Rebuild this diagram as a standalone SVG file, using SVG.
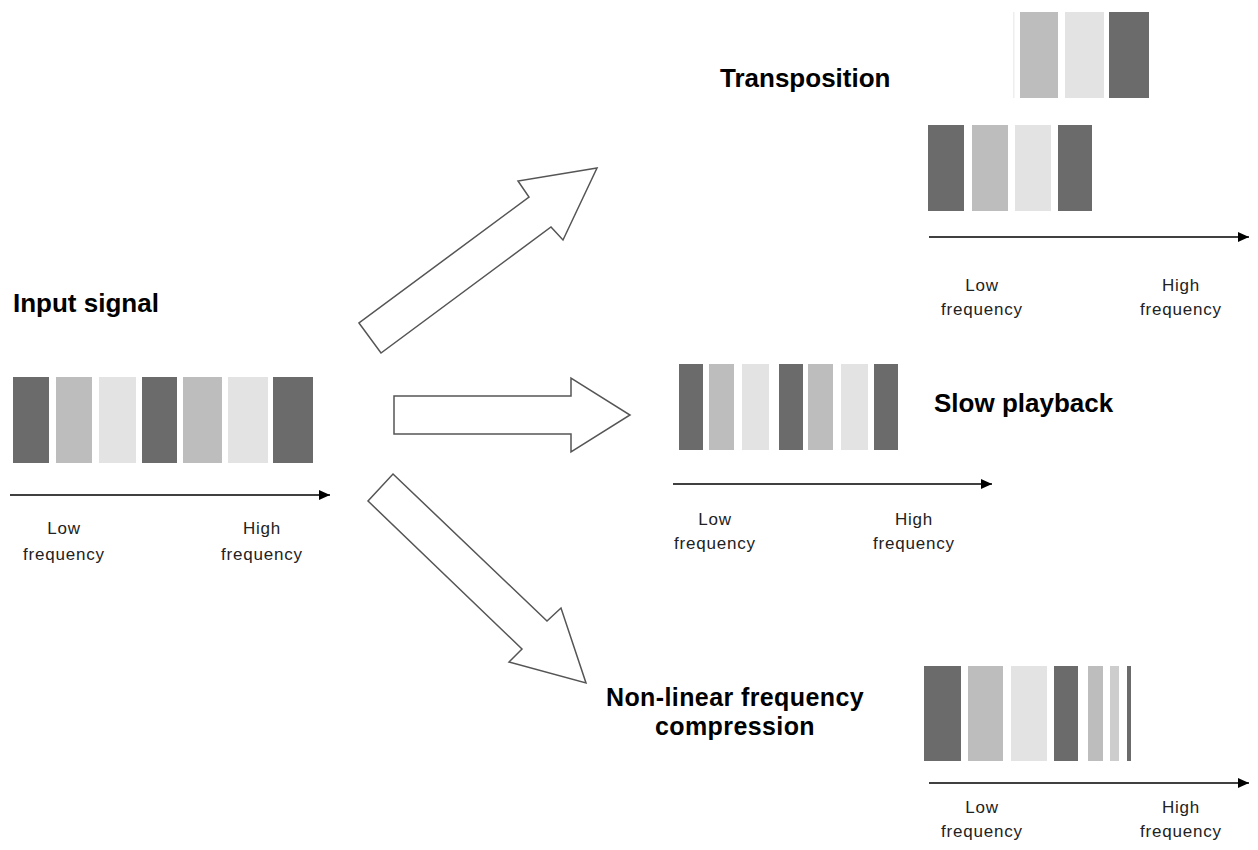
<svg xmlns="http://www.w3.org/2000/svg" width="1258" height="850" viewBox="0 0 1258 850">
<style>
.d{fill:#6b6b6b}.m{fill:#bdbdbd}.l{fill:#e3e3e3}
.ax{stroke:#000;stroke-width:1.5;fill:none}
.blk{fill:#fff;stroke:#555;stroke-width:1.5;stroke-linejoin:miter}
.t{font-family:"Liberation Sans",Arial,sans-serif;font-size:26px;font-weight:bold;fill:#000}
.t2{font-family:"Liberation Sans",Arial,sans-serif;font-size:25px;letter-spacing:0.4px;font-weight:bold;fill:#000;text-anchor:middle}
.s{font-family:"Liberation Sans",Arial,sans-serif;font-size:17px;letter-spacing:0.8px;fill:#222;text-anchor:middle}
</style>
<defs>
<marker id="ah" markerUnits="userSpaceOnUse" markerWidth="12" markerHeight="12" refX="11" refY="6" orient="auto">
<path d="M0,1 L11,6 L0,11 Z" fill="#000"/>
</marker>
</defs>
<rect width="1258" height="850" fill="#fff"/>

<g id="input">
<text class="t" x="13" y="312">Input signal</text>
<rect class="d" x="13" y="377" width="36" height="86"/>
<rect class="m" x="56" y="377" width="36" height="86"/>
<rect class="l" x="99" y="377" width="37" height="86"/>
<rect class="d" x="142" y="377" width="35" height="86"/>
<rect class="m" x="183" y="377" width="39" height="86"/>
<rect class="l" x="228" y="377" width="40" height="86"/>
<rect class="d" x="273" y="377" width="40" height="86"/>
<line class="ax" x1="10" y1="495" x2="330" y2="495" marker-end="url(#ah)"/>
<text class="s" x="64" y="534">Low</text>
<text class="s" x="64" y="560">frequency</text>
<text class="s" x="262" y="534">High</text>
<text class="s" x="262" y="560">frequency</text>
</g>

<g id="transposition">
<text class="t" x="720" y="87">Transposition</text>
<rect x="1013" y="12" width="1.5" height="86" fill="#eeeeee"/>
<rect class="m" x="1020" y="12" width="38" height="86"/>
<rect class="l" x="1065" y="12" width="39" height="86"/>
<rect class="d" x="1109" y="12" width="40" height="86"/>
<rect class="d" x="928" y="125" width="36" height="86"/>
<rect class="m" x="972" y="125" width="36" height="86"/>
<rect class="l" x="1015" y="125" width="36" height="86"/>
<rect class="d" x="1058" y="125" width="34" height="86"/>
<line class="ax" x1="929" y1="237" x2="1249" y2="237" marker-end="url(#ah)"/>
<text class="s" x="982" y="291">Low</text>
<text class="s" x="982" y="315">frequency</text>
<text class="s" x="1181" y="291">High</text>
<text class="s" x="1181" y="315">frequency</text>
</g>

<g id="slow">
<text class="t" x="934" y="412">Slow playback</text>
<rect class="d" x="679" y="364" width="24" height="86"/>
<rect class="m" x="709" y="364" width="25" height="86"/>
<rect class="l" x="742" y="364" width="27" height="86"/>
<rect class="d" x="779" y="364" width="24" height="86"/>
<rect class="m" x="808" y="364" width="25" height="86"/>
<rect class="l" x="841" y="364" width="27" height="86"/>
<rect class="d" x="874" y="364" width="24" height="86"/>
<line class="ax" x1="673" y1="484" x2="992" y2="484" marker-end="url(#ah)"/>
<text class="s" x="715" y="525">Low</text>
<text class="s" x="715" y="549">frequency</text>
<text class="s" x="914" y="525">High</text>
<text class="s" x="914" y="549">frequency</text>
</g>

<g id="nonlinear">
<text class="t2" x="735" y="706">Non-linear frequency</text>
<text class="t2" x="735" y="735">compression</text>
<rect class="d" x="924" y="666" width="37" height="95"/>
<rect class="m" x="968" y="666" width="35" height="95"/>
<rect class="l" x="1011" y="666" width="36" height="95"/>
<rect class="d" x="1054" y="666" width="24" height="95"/>
<rect class="m" x="1088" y="666" width="15" height="95"/>
<rect x="1110" y="666" width="9" height="95" fill="#cdcdcd"/>
<rect class="d" x="1127" y="666" width="4" height="95"/>
<line class="ax" x1="929" y1="783" x2="1249" y2="783" marker-end="url(#ah)"/>
<text class="s" x="982" y="813">Low</text>
<text class="s" x="982" y="837">frequency</text>
<text class="s" x="1181" y="813">High</text>
<text class="s" x="1181" y="837">frequency</text>
</g>

<g id="connectors">
<polygon class="blk" points="359,323 381,353 551,227 563,240 597,168 518,181 529,197"/>
<polygon class="blk" points="394,396 571,396 571,378 630,415 571,452 571,434 394,434"/>
<polygon class="blk" points="393,474 547,621 561,608 586,683 509,662 522,649 368,501"/>
</g>
</svg>
